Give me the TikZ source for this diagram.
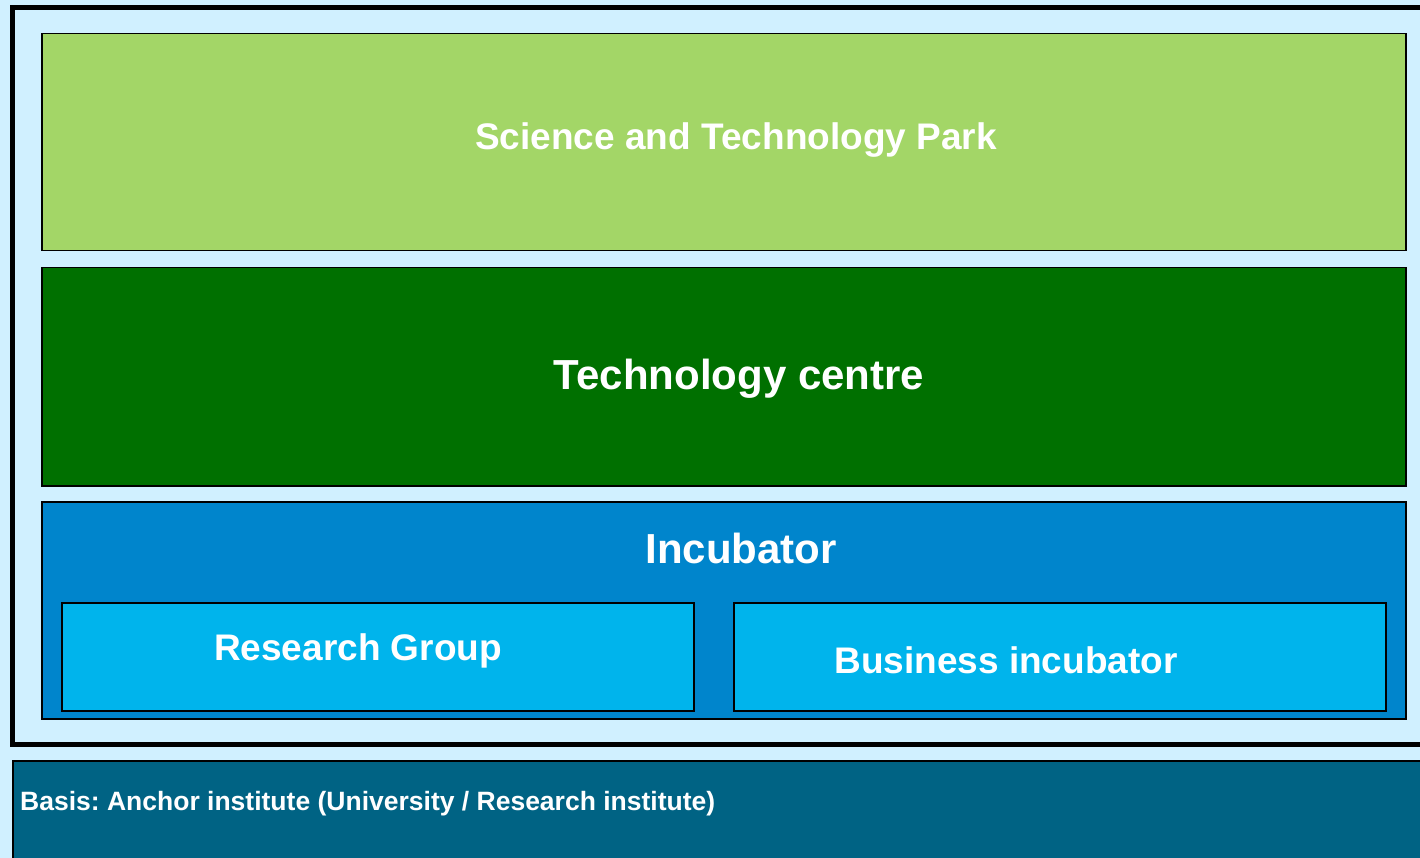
\documentclass[tikz,border=0pt]{standalone}
\usepackage{fontspec}
\setmainfont{Liberation Sans}
\frenchspacing
\definecolor{bgblue}{HTML}{D0F0FF}
\definecolor{parkgreen}{HTML}{A3D667}
\definecolor{centregreen}{HTML}{007000}
\definecolor{incblue}{HTML}{0085CC}
\definecolor{subblue}{HTML}{00B4EC}
\definecolor{basisblue}{HTML}{006384}
\tikzset{
  layer/.style={draw=black, line width=1.5pt, anchor=north west, inner sep=0pt},
  subbox/.style={draw=black, line width=2pt, anchor=north west, fill=subblue, inner sep=0pt},
  lbl/.style={text=white, font=\bfseries, inner sep=0pt},
}
\begin{document}
\begin{tikzpicture}[x=1pt, y=-1pt]
\useasboundingbox (0,0) rectangle (1420,858);
\clip (0,0) rectangle (1420,858);
\fill[bgblue] (0,0) rectangle (1420,858);
% outer frame
\draw[line width=5pt] (12.5,8) rectangle (1440,744.5);
% layers
\node[layer, fill=parkgreen, minimum width=1364pt, minimum height=217pt] (park) at (41,33) {};
\node[layer, fill=centregreen, minimum width=1364pt, minimum height=218pt] (centre) at (41,267) {};
\node[layer, fill=incblue, minimum width=1364pt, minimum height=217pt] (inc) at (41,501) {};
\node[subbox, minimum width=632pt, minimum height=108pt] (rg) at (61,602) {};
\node[subbox, minimum width=652pt, minimum height=108pt] (bi) at (733,602) {};
\node[draw=black, line width=1.5pt, fill=basisblue, anchor=north west, minimum width=1420pt, minimum height=120pt, inner sep=0pt] (basis) at (12,760) {};
% labels
\node[lbl, font=\fontsize{37}{40}\selectfont\bfseries] (parkt) at (736,140) {Science and Technology Park};
\node[lbl, font=\fontsize{42}{46}\selectfont\bfseries] (centret) at (739,379) {Technology centre};
\node[lbl, font=\fontsize{42}{46}\selectfont\bfseries] (inct) at (741,548) {Incubator};
\node[lbl, font=\fontsize{37}{40}\selectfont\bfseries] (rgt) at (358,651) {Research Group};
\node[lbl, font=\fontsize{37}{40}\selectfont\bfseries] (bit) at (1006,660) {Business incubator};
\node[lbl, font=\fontsize{26.5}{30}\selectfont\bfseries, anchor=west] (basist) at (20,804) {Basis: Anchor institute (University / Research institute)};
\end{tikzpicture}
\end{document}
